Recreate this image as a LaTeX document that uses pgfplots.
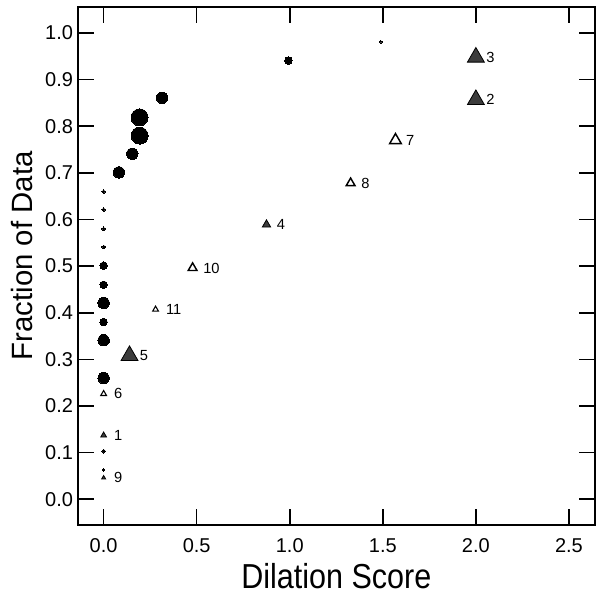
\documentclass[border=0pt]{standalone}
\usepackage{fontspec}
\setmainfont{Liberation Sans}
\newfontfamily\xlabfont[FakeStretch=0.88]{Liberation Sans}
\usepackage{pgfplots}
\pgfplotsset{compat=1.18}
\definecolor{trigray}{HTML}{3C3C3C}

\pgfplotsset{
  circ/.style={only marks, mark=*, mark options={draw=black, fill=black, line width=0pt}},
  tri/.style={only marks, mark=triangle*, mark options={draw=black, fill=trigray, line width=0.6pt},
    nodes near coords, point meta=explicit symbolic,
    every node near coord/.append style={anchor=west, inner sep=0pt, xshift=7.5pt, font=\fontsize{11}{11}\selectfont}},
  otri/.style={tri, mark options={draw=black, fill=white, line width=1.1pt}},
}

\begin{document}
\begin{tikzpicture}
\begin{axis}[
  name=ax,
  scale only axis,
  width=387.75pt, height=388.5pt,
  xmin=-0.139, xmax=2.64,
  ymin=-0.0558, ymax=1.0558,
  xtick={0,0.5,1,1.5,2,2.5},
  ytick={0,0.1,0.2,0.3,0.4,0.5,0.6,0.7,0.8,0.9,1.0},
  axis line style={line width=1.2pt},
  major tick style={line width=1.2pt, black},
  major tick length=12pt,
  tick align=inside,
  xtick pos=both, ytick pos=both,
  tick label style={font=\fontsize{15}{15}\selectfont},
  xticklabel style={yshift=-6.3pt},
  /pgf/number format/.cd, fixed, fixed zerofill, precision=1, assume math mode=true,
  /pgfplots/.cd,
  xlabel={Dilation Score},
  ylabel={Fraction of Data},
  every axis x label/.style={at={(axis description cs:0.5,-0.1216)}, anchor=base,
    font=\xlabfont\fontsize{26}{26}\selectfont},
  every axis y label/.style={at={(axis description cs:-0.107,0.52)}, anchor=center, rotate=90,
    font=\fontsize{22}{22}\selectfont},
  clip=false,
]
% filled circles, grouped by marker size
\addplot[circ, mark size=6.4pt] coordinates {(0.193,0.819) (0.193,0.780)};
\addplot[circ, mark size=4.3pt] coordinates {
  (0.314,0.861) (0.082,0.701) (0.154,0.741) (0,0.421) (0,0.341) (0,0.260)};
\addplot[circ, mark size=2.8pt] coordinates {
  (0.993,0.941) (0,0.501) (0,0.460) (0,0.380)};
\addplot[circ, mark size=1.4pt] coordinates {
  (0,0.660) (0,0.621) (0,0.580) (0,0.541) (0,0.103)};
\addplot[circ, mark size=1.0pt] coordinates {(1.49,0.981) (0,0.063)};

% labelled triangles
\addplot[tri, mark size=7.3pt] table[meta=lab] {
x y lab
2.0 0.948 3
2.0 0.857 2
0.139 0.308 5
};
\addplot[tri, mark size=3.6pt] table[meta=lab] {
x y lab
0.875 0.589 4
};
\addplot[tri, mark size=2.5pt] table[meta=lab] {
x y lab
0 0.137 1
};
\addplot[tri, mark size=1.7pt] table[meta=lab] {
x y lab
0 0.046 9
};
\addplot[otri, mark size=5.0pt] table[meta=lab] {
x y lab
1.568 0.770 7
};
\addplot[otri, mark size=3.8pt] table[meta=lab] {
x y lab
1.327 0.678 8
0.478 0.496 10
};
\addplot[otri, mark size=2.5pt, mark options={draw=black, fill=white, line width=0.8pt}] table[meta=lab] {
x y lab
0.279 0.407 11
0 0.226 6
};
\end{axis}
\pgfresetboundingbox
\path[use as bounding box] ([shift={(-58.3pt,-55.5pt)}]ax.south west) rectangle ([shift={(6.75pt,5.25pt)}]ax.north east);
\end{tikzpicture}
\end{document}
